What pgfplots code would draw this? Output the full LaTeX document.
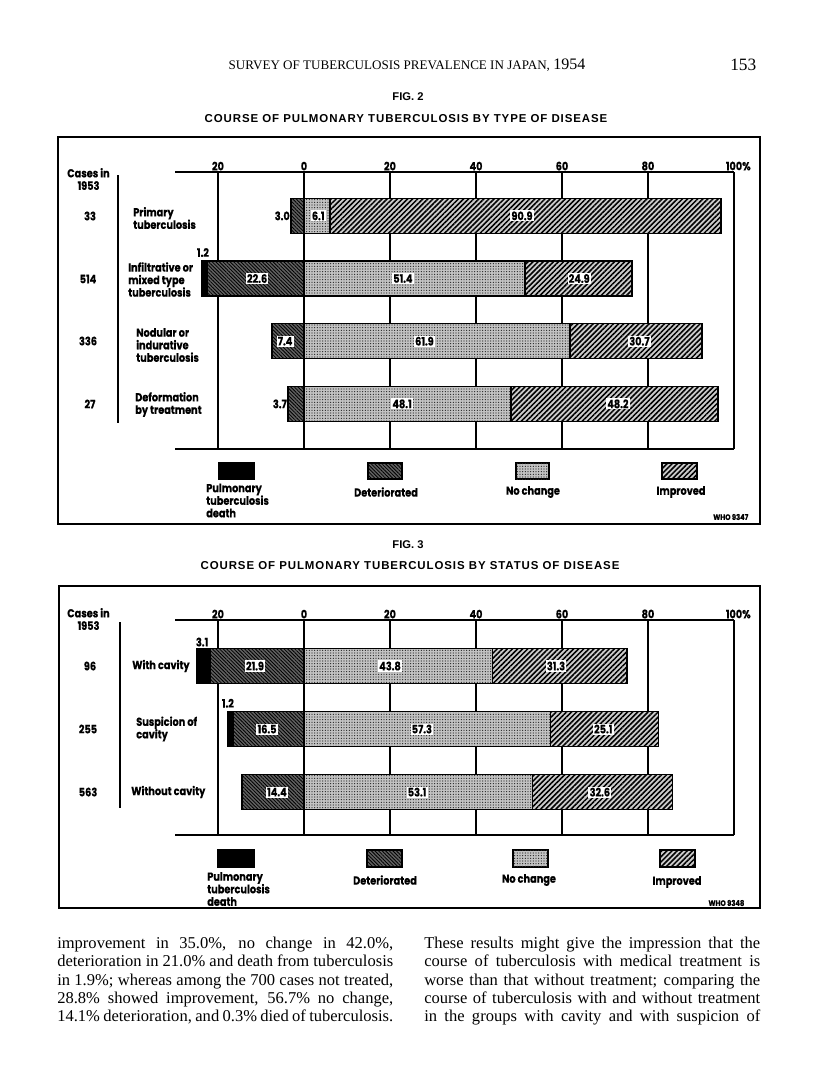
\documentclass[border=0pt]{standalone}
\usepackage{fontspec}
\setmainfont{Liberation Serif}
\newfontfamily\cf{Poppins}[FakeStretch=0.84, BoldFeatures={FakeBold=0.4}]
\newfontfamily\hf{Liberation Sans}
\usepackage{pgfplots}
\pgfplotsset{compat=1.18}
\usepackage{pgfplotstable}
\usetikzlibrary{patterns,patterns.meta}

\newcommand\cfs{\cf\bfseries\fontsize{8.7}{9.4}\selectfont}
\newcommand\cfsm{\cf\bfseries\fontsize{6}{7}\selectfont}

\tikzset{
 deathst/.style={fill=black},
 detst/.style={fill=black!62, postaction={pattern color=black, pattern={Lines[angle=-45,distance=1.9pt,line width=0.6pt]}}},
 ncst/.style={fill=black!24, postaction={pattern color=black!85, pattern={Dots[distance=2pt,radius=0.47pt]}}},
 impst/.style={fill=black!20, postaction={pattern color=black, pattern={Lines[angle=45,distance=2.7pt,line width=1.15pt]}}},
 vl/.style={fill=white, inner sep=0.9pt, font=\cfs},
 ol/.style={inner sep=0.8pt, font=\cfs},
 lab/.style={font=\cfs, align=left, anchor=west, inner sep=0pt},
 bodyl/.style={anchor=base west, inner sep=0pt, font=\fontsize{12.4}{13.5}\selectfont},
}

\pgfplotstableread{
y death det nc imp
0 0 3.0 6.1 90.9
1 1.2 22.6 51.4 24.9
2 0 7.4 61.9 30.7
3 0 3.7 48.1 48.2
}\figtwo

\pgfplotstableread{
y death det nc imp
0 3.1 21.9 43.8 31.3
1 1.2 16.5 57.3 25.1
2 0 14.4 53.1 32.6
}\figthree

\pgfplotsset{myax/.style={
  anchor=north west, scale only axis, width=419.25pt,
  xmin=-30, xmax=100, y dir=reverse,
  xbar, bar shift=0pt,
  axis line style={draw=none},
  xtick={-20,0,20,40,60,80,100},
  xticklabels={20,0,20,40,60,80,{100\rlap{\%}}},
  xticklabel pos=upper, major tick length=0pt,
  xmajorgrids, grid style={black, line width=0.9pt},
  ytick=\empty,
  xticklabel style={font=\cfs, inner sep=1pt},
  clip=false,
  every axis plot/.append style={draw=black, line width=1.1pt},
}}

\newcommand\bl[3]{\node[bodyl] at (#1,#2) {\makebox[252pt][s]{#3}};}

\begin{document}
\begin{tikzpicture}
\begin{scope}[x=0.75pt,y=-0.75pt]
\fill[white] (0,0) rectangle (816,1085);
\useasboundingbox (0,0) rectangle (816,1085);

% header
\node[font=\fontsize{9.8}{10}\selectfont] at (407,65) {SURVEY OF TUBERCULOSIS PREVALENCE IN JAPAN, {\fontsize{12}{12}\selectfont 1954}};
\node[anchor=east, font=\fontsize{13}{13}\selectfont] at (761,65) {153};

% fig 2 titles
\node[font=\hf\bfseries\fontsize{8.4}{9}\selectfont] at (408,97) {FIG. 2};
\node[font=\hf\bfseries\fontsize{8.6}{9}\selectfont] at (406,119) {\addfontfeature{LetterSpace=8}COURSE OF PULMONARY TUBERCULOSIS BY TYPE OF DISEASE};
\draw[line width=1pt] (58,137) rectangle (760,524);

\node[font=\cfs, align=center] at (88.5,179) {Cases in\\1953};
\draw[line width=1pt] (118,175) -- (118,423);
\node[font=\cfs] at (90,216) {33};
\node[font=\cfs] at (88,279) {514};
\node[font=\cfs] at (88,341) {336};
\node[font=\cfs] at (90,404) {27};
\node[lab] at (133,218) {Primary\\tuberculosis};
\node[lab] at (128,279.5) {Infiltrative or\\mixed type\\tuberculosis};
\node[lab] at (136,345) {Nodular or\\indurative\\tuberculosis};
\node[lab] at (135,404.5) {Deformation\\by treatment};

% legend fig 2
\draw[line width=1pt, deathst] (219,463) rectangle (254,479);
\draw[line width=1pt, detst] (368,463) rectangle (402,479);
\draw[line width=1pt, ncst] (516,463) rectangle (549,479);
\draw[line width=1pt, impst] (662,463) rectangle (697,479);
\node[lab] at (206,500.5) {Pulmonary\\tuberculosis\\death};
\node[font=\cfs] at (386,492) {Deteriorated};
\node[font=\cfs] at (533,492) {No change};
\node[font=\cfs] at (681,492) {Improved};
\node[font=\cfsm, anchor=east] at (753,517) {WHO 9347};

% fig 3 titles
\node[font=\hf\bfseries\fontsize{8.4}{9}\selectfont] at (408,545) {FIG. 3};
\node[font=\hf\bfseries\fontsize{8.6}{9}\selectfont] at (410,566) {\addfontfeature{LetterSpace=8}COURSE OF PULMONARY TUBERCULOSIS BY STATUS OF DISEASE};
\draw[line width=1pt] (59,586) rectangle (760,908);

\node[font=\cfs, align=center] at (88.5,619) {Cases in\\1953};
\draw[line width=1pt] (120,622) -- (120,808);
\node[font=\cfs] at (90,666) {96};
\node[font=\cfs] at (88,729) {255};
\node[font=\cfs] at (88,792) {563};
\node[lab] at (132,666) {With cavity};
\node[lab] at (136,729) {Suspicion of\\cavity};
\node[lab] at (131,792) {Without cavity};

% legend fig 3
\draw[line width=1pt, deathst] (218,850) rectangle (254,867);
\draw[line width=1pt, detst] (367,850) rectangle (402,867);
\draw[line width=1pt, ncst] (513,850) rectangle (548,867);
\draw[line width=1pt, impst] (660,850) rectangle (695,867);
\node[lab] at (207,889) {Pulmonary\\tuberculosis\\death};
\node[font=\cfs] at (385,880) {Deteriorated};
\node[font=\cfs] at (529,880) {No change};
\node[font=\cfs] at (677,882) {Improved};
\node[font=\cfsm, anchor=east] at (749,903) {WHO 9348};

% body text
\bl{57}{948}{improvement in 35.0\%, no change in 42.0\%,}
\bl{57}{966}{deterioration in 21.0\% and death from tuberculosis}
\bl{57}{985}{in 1.9\%; whereas among the 700 cases not treated,}
\bl{57}{1003}{28.8\% showed improvement, 56.7\% no change,}
\bl{57}{1021}{14.1\% deterioration, and 0.3\% died of tuberculosis.}
\bl{424}{948}{These results might give the impression that the}
\bl{424}{966}{course of tuberculosis with medical treatment is}
\bl{424}{985}{worse than that without treatment; comparing the}
\bl{424}{1003}{course of tuberculosis with and without treatment}
\bl{424}{1021}{in the groups with cavity and with suspicion of}
\end{scope}

% ---------- FIG 2 axis
\begin{axis}[myax, at={(131.25pt,-129pt)}, height=207.75pt,
  ymin=-0.70, ymax=3.72, bar width=0.56]
\addplot[deathst] table[x expr={-(\thisrow{death}+\thisrow{det})}, y=y] {\figtwo};
\addplot[detst] table[x expr={-\thisrow{det}}, y=y] {\figtwo};
\addplot[impst] table[x expr={\thisrow{nc}+\thisrow{imp}}, y=y] {\figtwo};
\addplot[ncst] table[x=nc, y=y] {\figtwo};
\draw[line width=1.6pt] (axis cs:0,-0.70) -- (axis cs:0,3.72);
\draw[line width=1.1pt] (axis cs:-30,-0.70) -- (axis cs:100,-0.70);
\draw[line width=1.1pt] (axis cs:-30,3.72) -- (axis cs:100,3.72);
\node[vl] at (axis cs:3.3,0) {6.1};
\node[vl] at (axis cs:50.7,0) {90.9};
\node[ol, anchor=east] at (axis cs:-3.0,0) {3.0};
\node[vl] at (axis cs:-10.9,1) {22.6};
\node[vl] at (axis cs:23,1) {51.4};
\node[vl] at (axis cs:64,1) {24.9};
\node[ol] at (axis cs:-23.5,0.585) {1.2};
\node[vl] at (axis cs:-4.4,2) {7.4};
\node[vl] at (axis cs:28,2) {61.9};
\node[vl] at (axis cs:78,2) {30.7};
\node[ol, anchor=east] at (axis cs:-3.7,3) {3.7};
\node[vl] at (axis cs:22.8,3) {48.1};
\node[vl] at (axis cs:73,3) {48.2};
\end{axis}

% ---------- FIG 3 axis
\begin{axis}[myax, at={(131.25pt,-465pt)}, height=161.25pt,
  ymin=-0.73, ymax=2.68, bar width=0.556]
\addplot[deathst] table[x expr={-(\thisrow{death}+\thisrow{det})}, y=y] {\figthree};
\addplot[detst] table[x expr={-\thisrow{det}}, y=y] {\figthree};
\addplot[impst] table[x expr={\thisrow{nc}+\thisrow{imp}}, y=y] {\figthree};
\addplot[ncst] table[x=nc, y=y] {\figthree};
\draw[line width=1.6pt] (axis cs:0,-0.73) -- (axis cs:0,2.68);
\draw[line width=1.1pt] (axis cs:-30,-0.73) -- (axis cs:100,-0.73);
\draw[line width=1.1pt] (axis cs:-30,2.68) -- (axis cs:100,2.68);
\node[ol] at (axis cs:-23.7,-0.38) {3.1};
\node[vl] at (axis cs:-11.4,0) {21.9};
\node[vl] at (axis cs:20,0) {43.8};
\node[vl] at (axis cs:58.6,0) {31.3};
\node[ol] at (axis cs:-17.7,0.59) {1.2};
\node[vl] at (axis cs:-8.6,1) {16.5};
\node[vl] at (axis cs:27.4,1) {57.3};
\node[vl] at (axis cs:69.6,1) {25.1};
\node[vl] at (axis cs:-6.3,2) {14.4};
\node[vl] at (axis cs:26.3,2) {53.1};
\node[vl] at (axis cs:68.8,2) {32.6};
\end{axis}
\end{tikzpicture}
\end{document}
